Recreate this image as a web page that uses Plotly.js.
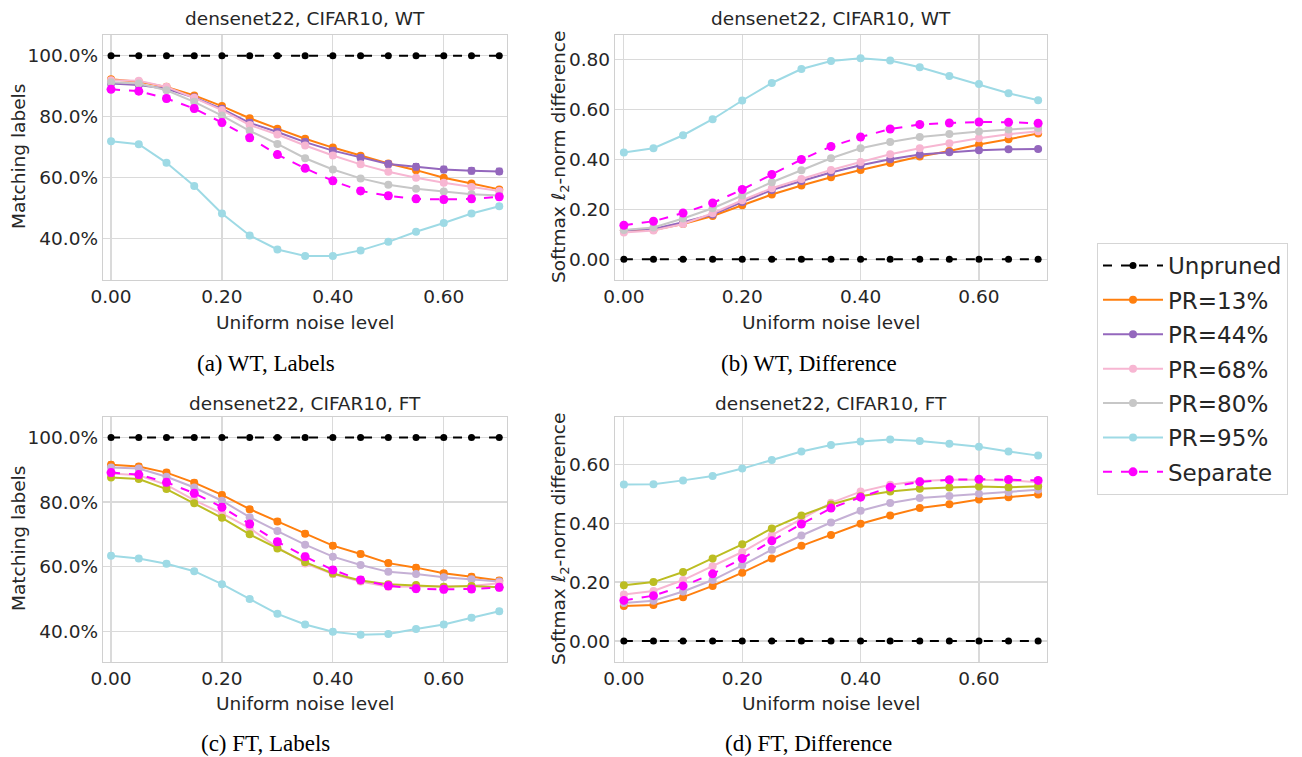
<!DOCTYPE html>
<html>
<head>
<meta charset="utf-8">
<script src="https://cdn.plot.ly/plotly-3.0.1.min.js"></script>
<style>html,body{margin:0;padding:0;background:#fff;}#chart{width:1302px;height:757px;}</style>
</head>
<body>
<div id="chart"></div>
<script>
// ---------- data ----------
const NOISE = [0, 0.05, 0.10, 0.15, 0.20, 0.25, 0.30, 0.35, 0.40, 0.45, 0.50, 0.55, 0.60, 0.65, 0.70];
const SERIES_NAMES = ['Unpruned', 'PR=13%', 'PR=44%', 'PR=68%', 'PR=80%', 'PR=95%', 'Separate'];
const PANEL_TITLES = ['densenet22, CIFAR10, WT', 'densenet22, CIFAR10, WT', 'densenet22, CIFAR10, FT', 'densenet22, CIFAR10, FT'];
const CAPTIONS = ['(a) WT, Labels', '(b) WT, Difference', '(c) FT, Labels', '(d) FT, Difference'];
const X_TICKS = [0, 0.2, 0.4, 0.6];
const X_TICK_TEXT = ['0.00', '0.20', '0.40', '0.60'];
const LABEL_TICKS = [40, 60, 80, 100];
const LABEL_TICK_TEXT = ['40.0%', '60.0%', '80.0%', '100.0%'];
const DIFF_TICKS_WT = [0, 0.2, 0.4, 0.6, 0.8];
const DIFF_TICK_TEXT_WT = ['0.00', '0.20', '0.40', '0.60', '0.80'];
const DIFF_TICKS_FT = [0, 0.2, 0.4, 0.6];
const DIFF_TICK_TEXT_FT = ['0.00', '0.20', '0.40', '0.60'];

// (a) WT, matching labels (%)
const WT_LAB_UNPRUNED = [100,100,100,100,100,100,100,100,100,100,100,100,100,100,100];
const WT_LAB_PR13 = [92.3,91.5,89.8,87.0,83.5,79.5,76.1,72.8,69.9,67.2,64.7,62.5,60.0,58.1,56.2];
const WT_LAB_PR44 = [90.9,90.4,89.2,86.3,82.6,78.0,75.0,71.7,68.9,66.6,64.5,63.6,62.7,62.3,62.1];
const WT_LAB_PR68 = [92.0,91.8,89.8,86.2,82.2,77.3,74.2,70.6,67.3,64.4,62.0,60.0,58.4,57.0,55.7];
const WT_LAB_PR80 = [91.3,90.9,88.7,84.9,80.4,75.4,71.1,66.4,62.7,59.8,57.7,56.4,55.5,54.6,54.2];
const WT_LAB_PR95 = [72.0,71.0,64.9,57.3,48.3,41.1,36.5,34.4,34.4,36.2,39.0,42.3,45.2,48.3,50.7];
const WT_LAB_SEP  = [89.0,88.4,86.0,82.7,78.1,73.1,67.6,63.1,59.0,55.7,54.1,53.1,52.9,53.1,53.8];
const WT_LAB_ERR  = [0, 0.6, 1.0, 0.7, 0.6, 0.7, 1.0];

// (b) WT, softmax l2 difference
const WT_DIF_UNPRUNED = [0,0,0,0,0,0,0,0,0,0,0,0,0,0,0];
const WT_DIF_PR13 = [0.115,0.117,0.141,0.173,0.216,0.259,0.295,0.328,0.357,0.385,0.411,0.433,0.459,0.480,0.503];
const WT_DIF_PR44 = [0.116,0.121,0.148,0.179,0.229,0.277,0.313,0.347,0.376,0.400,0.419,0.428,0.436,0.440,0.441];
const WT_DIF_PR68 = [0.107,0.115,0.141,0.184,0.236,0.284,0.321,0.357,0.389,0.420,0.444,0.464,0.484,0.500,0.512];
const WT_DIF_PR80 = [0.117,0.127,0.163,0.204,0.255,0.308,0.356,0.404,0.444,0.469,0.489,0.501,0.511,0.519,0.525];
const WT_DIF_PR95 = [0.427,0.444,0.496,0.560,0.635,0.705,0.761,0.793,0.804,0.795,0.768,0.733,0.701,0.664,0.636];
const WT_DIF_SEP  = [0.136,0.152,0.185,0.225,0.279,0.339,0.399,0.451,0.489,0.521,0.539,0.545,0.549,0.548,0.544];
const WT_DIF_ERR  = [0, 0.004, 0.004, 0.004, 0.004, 0.004, 0.005];

// (c) FT, matching labels (%)
const FT_LAB_UNPRUNED = [100,100,100,100,100,100,100,100,100,100,100,100,100,100,100];
const FT_LAB_A = [91.5,91.0,89.1,86.0,82.2,77.8,74.0,70.2,66.5,63.9,61.1,59.7,58.0,56.9,55.7];
const FT_LAB_B = [90.7,90.4,87.8,84.5,80.4,75.3,71.0,66.8,63.1,60.5,58.4,57.7,56.7,56.1,55.4];
const FT_LAB_C = [88.8,88.3,85.3,80.6,76.5,71.9,66.0,61.0,57.7,55.4,53.8,53.8,53.8,54.0,54.9];
const FT_LAB_D = [87.6,87.1,84.0,79.6,75.1,70.0,65.6,61.4,57.9,55.7,54.6,54.3,53.8,54.0,53.6];
const FT_LAB_E = [63.4,62.5,60.9,58.6,54.6,50.0,45.4,42.1,39.9,38.9,39.2,40.7,42.1,44.2,46.2];
const FT_LAB_SEP = [89.1,88.5,86.1,82.7,78.4,73.2,67.7,63.1,59.0,55.9,54.1,53.2,53.0,53.1,53.6];
const FT_LAB_ERR = [0, 0.8, 0.6, 0.9, 0.6, 0.7, 1.0];

// (d) FT, softmax l2 difference
const FT_DIF_UNPRUNED = [0,0,0,0,0,0,0,0,0,0,0,0,0,0,0];
const FT_DIF_A = [0.119,0.122,0.149,0.187,0.232,0.280,0.323,0.360,0.398,0.426,0.451,0.464,0.480,0.488,0.497];
const FT_DIF_B = [0.129,0.137,0.168,0.207,0.257,0.310,0.358,0.402,0.442,0.468,0.485,0.492,0.500,0.505,0.513];
const FT_DIF_C = [0.158,0.170,0.207,0.254,0.302,0.359,0.413,0.469,0.507,0.530,0.543,0.547,0.547,0.545,0.539];
const FT_DIF_D = [0.189,0.200,0.234,0.280,0.328,0.382,0.426,0.463,0.491,0.507,0.517,0.521,0.524,0.522,0.525];
const FT_DIF_E = [0.531,0.532,0.545,0.560,0.585,0.614,0.643,0.665,0.677,0.684,0.679,0.669,0.659,0.643,0.629];
const FT_DIF_SEP = [0.138,0.154,0.187,0.228,0.280,0.340,0.397,0.451,0.488,0.522,0.540,0.547,0.549,0.548,0.545];
const FT_DIF_ERR = [0, 0.004, 0.004, 0.004, 0.004, 0.004, 0.005];

// ---------- styles ----------
const COLORS_WT = ['#000000', '#ff7f0e', '#9467bd', '#f7b6d2', '#c7c7c7', '#9edae5', '#ff00ff'];
const COLORS_FT = ['#000000', '#ff7f0e', '#c5b0d5', '#f7b6d2', '#bcbd22', '#9edae5', '#ff00ff'];
const DASHED = [true, false, false, false, false, false, true];
const MARKER_SIZES = [7, 8, 8, 8, 8, 8, 9];

const PANELS = [
  {series: [WT_LAB_UNPRUNED, WT_LAB_PR13, WT_LAB_PR44, WT_LAB_PR68, WT_LAB_PR80, WT_LAB_PR95, WT_LAB_SEP], err: WT_LAB_ERR, colors: COLORS_WT, xa: 'x', ya: 'y', legend: true},
  {series: [WT_DIF_UNPRUNED, WT_DIF_PR13, WT_DIF_PR44, WT_DIF_PR68, WT_DIF_PR80, WT_DIF_PR95, WT_DIF_SEP], err: WT_DIF_ERR, colors: COLORS_WT, xa: 'x2', ya: 'y2', legend: false},
  {series: [FT_LAB_UNPRUNED, FT_LAB_A, FT_LAB_B, FT_LAB_C, FT_LAB_D, FT_LAB_E, FT_LAB_SEP], err: FT_LAB_ERR, colors: COLORS_FT, xa: 'x3', ya: 'y3', legend: false},
  {series: [FT_DIF_UNPRUNED, FT_DIF_A, FT_DIF_B, FT_DIF_C, FT_DIF_D, FT_DIF_E, FT_DIF_SEP], err: FT_DIF_ERR, colors: COLORS_FT, xa: 'x4', ya: 'y4', legend: false}
];

const traces = [];
PANELS.forEach(function (p) {
  p.series.forEach(function (ys, i) {
    traces.push({
      type: 'scatter', mode: 'lines+markers',
      x: NOISE, y: ys, xaxis: p.xa, yaxis: p.ya,
      name: SERIES_NAMES[i], legendgroup: 'g' + i, showlegend: p.legend,
      line: {color: p.colors[i], width: 2, dash: DASHED[i] ? 'dash' : 'solid'},
      marker: {color: p.colors[i], size: MARKER_SIZES[i]},
      error_y: {type: 'constant', value: p.err[i], visible: true, color: p.colors[i], thickness: 1.3, width: 3}
    });
  });
});

const FONT = 'DejaVu Sans, sans-serif';
const TXT = '#262626';
function xaxis(dom, rng, anchor) {
  return {domain: dom, range: rng, anchor: anchor, tickmode: 'array', tickvals: X_TICKS, ticktext: X_TICK_TEXT,
    showgrid: true, gridcolor: '#dadada', gridwidth: 1.2, zeroline: false,
    showline: true, mirror: true, linecolor: '#d0d0d0', linewidth: 1.2,
    ticks: '', tickfont: {family: FONT, size: 18.5, color: TXT}};
}
function yaxis(dom, rng, anchor, vals, texts) {
  return {domain: dom, range: rng, anchor: anchor, tickmode: 'array', tickvals: vals, ticktext: texts,
    showgrid: true, gridcolor: '#dadada', gridwidth: 1.2, zeroline: false,
    showline: true, mirror: true, linecolor: '#d0d0d0', linewidth: 1.2,
    ticks: '', tickfont: {family: FONT, size: 18.5, color: TXT}};
}
const W = 1302, H = 757;
const px = v => v / W, py = v => 1 - v / H;
const XL = [px(103), px(507)], XR = [px(615), px(1047)];
const YT = [py(280), py(35)], YB = [py(661.7), py(416.7)];

const annotations = [];
function ann(text, x, y, opts) {
  annotations.push(Object.assign({text: text, x: px(x), y: py(y), xref: 'paper', yref: 'paper',
    showarrow: false, xanchor: 'center', yanchor: 'middle', font: {family: FONT, size: 18.5, color: TXT}}, opts || {}));
}
ann(PANEL_TITLES[0], 305, 19);
ann(PANEL_TITLES[1], 831, 19);
ann(PANEL_TITLES[2], 305, 403);
ann(PANEL_TITLES[3], 831, 403);
ann('Uniform noise level', 305, 322);
ann('Uniform noise level', 831, 322);
ann('Uniform noise level', 305, 703);
ann('Uniform noise level', 831, 703);
ann('Matching labels', 18, 157, {textangle: -90});
ann('Matching labels', 18, 539, {textangle: -90});
ann('Softmax <i>ℓ</i><sub>2</sub>-norm difference', 560, 157, {textangle: -90});
ann('Softmax <i>ℓ</i><sub>2</sub>-norm difference', 560, 539, {textangle: -90});
const CAPF = {family: 'Liberation Serif, Times New Roman, serif', size: 23, color: '#000'};
ann(CAPTIONS[0], 266, 364, {font: CAPF});
ann(CAPTIONS[1], 809, 364, {font: CAPF});
ann(CAPTIONS[2], 265, 743, {font: CAPF});
ann(CAPTIONS[3], 808, 743, {font: CAPF});

const layout = {
  width: W, height: H, margin: {l: 0, r: 0, t: 0, b: 0},
  paper_bgcolor: '#ffffff', plot_bgcolor: '#ffffff',
  font: {family: FONT, color: TXT},
  xaxis: xaxis(XL, [-0.0145, 0.714], 'y'),
  yaxis: yaxis(YT, [26.5, 106.8], 'x', LABEL_TICKS, LABEL_TICK_TEXT),
  xaxis2: xaxis(XR, [-0.015, 0.715], 'y2'),
  yaxis2: yaxis(YT, [-0.083, 0.897], 'x2', DIFF_TICKS_WT, DIFF_TICK_TEXT_WT),
  xaxis3: xaxis(XL, [-0.0145, 0.714], 'y3'),
  yaxis3: yaxis(YB, [30.6, 106.4], 'x3', LABEL_TICKS, LABEL_TICK_TEXT),
  xaxis4: xaxis(XR, [-0.015, 0.715], 'y4'),
  yaxis4: yaxis(YB, [-0.070, 0.761], 'x4', DIFF_TICKS_FT, DIFF_TICK_TEXT_FT),
  showlegend: true,
  legend: {x: px(1097), y: py(243), xanchor: 'left', yanchor: 'top',
    bgcolor: '#ffffff', bordercolor: '#d5d5d5', borderwidth: 1,
    font: {family: FONT, size: 23, color: TXT}, tracegroupgap: 1.5, traceorder: 'grouped',
    itemwidth: 60},
  annotations: annotations
};

Plotly.newPlot('chart', traces, layout, {displayModeBar: false, staticPlot: true});
</script>
</body>
</html>
